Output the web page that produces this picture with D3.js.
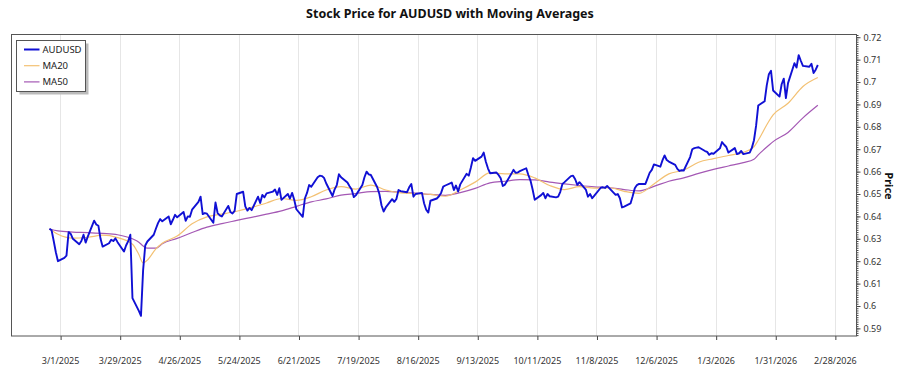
<!DOCTYPE html>
<html>
<head>
<meta charset="utf-8">
<script src="https://cdnjs.cloudflare.com/ajax/libs/d3/7.8.5/d3.min.js"></script>
<style>
  body { margin: 0; background: #fff; }
  text { font-family: "Segoe UI", "Noto Sans", sans-serif; }
</style>
</head>
<body>
<div id="chart"></div>
<script>
// ===== DATA =====
// first trading day, then one row per week (Mon..Fri closes)
var firstMonday = "2025-02-24";
var audusd = [
  [0.6345, 0.6338, 0.6290, 0.6240, 0.6200],
  [0.6215, 0.6225, 0.6330, 0.6322, 0.6300],
  [0.6276, 0.6290, 0.6318, 0.6283, 0.6310],
  [0.6381, 0.6364, 0.6358, 0.6300, 0.6265],
  [0.6280, 0.6296, 0.6290, 0.6302, 0.6285],
  [0.6243, 0.6270, 0.6290, 0.6318, 0.6035],
  [0.5978, 0.5956, 0.6160, 0.6270, 0.6288],
  [0.6318, 0.6345, 0.6370, 0.6388, 0.6378],
  [0.6400, 0.6365, 0.6385, 0.6407, 0.6396],
  [0.6420, 0.6380, 0.6400, 0.6398, 0.6430],
  [0.6465, 0.6488, 0.6410, 0.6415, 0.6412],
  [0.6372, 0.6462, 0.6415, 0.6405, 0.6400],
  [0.6447, 0.6420, 0.6413, 0.6425, 0.6500],
  [0.6510, 0.6445, 0.6426, 0.6438, 0.6428],
  [0.6488, 0.6460, 0.6496, 0.6485, 0.6503],
  [0.6511, 0.6520, 0.6496, 0.6526, 0.6474],
  [0.6500, 0.6480, 0.6505, 0.6474, 0.6432],
  [0.6398, 0.6480, 0.6505, 0.6540, 0.6532],
  [0.6575, 0.6582, 0.6580, 0.6572, 0.6548],
  [0.6491, 0.6521, 0.6540, 0.6588, 0.6575],
  [0.6551, 0.6535, 0.6520, 0.6486, 0.6495],
  [0.6540, 0.6575, 0.6600, 0.6588, 0.6585],
  [0.6530, 0.6500, 0.6450, 0.6422, 0.6440],
  [0.6477, 0.6465, 0.6478, 0.6518, 0.6513],
  [0.6508, 0.6530, 0.6545, 0.6488, 0.6500],
  [0.6505, 0.6459, 0.6430, 0.6417, 0.6470],
  [0.6480, 0.6490, 0.6505, 0.6533, 0.6538],
  [0.6551, 0.6518, 0.6538, 0.6511, 0.6543],
  [0.6590, 0.6582, 0.6618, 0.6660, 0.6648],
  [0.6667, 0.6685, 0.6645, 0.6615, 0.6593],
  [0.6596, 0.6585, 0.6570, 0.6536, 0.6542],
  [0.6590, 0.6608, 0.6595, 0.6596, 0.6602],
  [0.6615, 0.6585, 0.6560, 0.6520, 0.6474],
  [0.6495, 0.6505, 0.6481, 0.6500, 0.6490],
  [0.6485, 0.6488, 0.6510, 0.6545, 0.6553],
  [0.6580, 0.6582, 0.6566, 0.6541, 0.6553],
  [0.6520, 0.6488, 0.6500, 0.6481, 0.6493],
  [0.6528, 0.6530, 0.6527, 0.6536, 0.6526],
  [0.6496, 0.6500, 0.6481, 0.6440, 0.6444],
  [0.6458, 0.6490, 0.6526, 0.6540, 0.6545],
  [0.6545, 0.6570, 0.6595, 0.6608, 0.6632],
  [0.6622, 0.6650, 0.6672, 0.6652, 0.6645],
  [0.6630, 0.6612, 0.6603, 0.6606, 0.6605],
  [0.6665, 0.6700, 0.6705, 0.6707, 0.6709],
  [0.6692, 0.6688, 0.6675, 0.6682, 0.6680],
  [0.6704, 0.6732, 0.6720, 0.6710, 0.6685],
  [0.6705, 0.6678, 0.6682, 0.6692, 0.6678],
  [0.6685, 0.6706, 0.6740, 0.6805, 0.6895],
  [0.6914, 0.6985, 0.7035, 0.7050, 0.6962],
  [0.6935, 0.6990, 0.7015, 0.6928, 0.6995],
  [0.7084, 0.7065, 0.7120, 0.7095, 0.7072],
  [0.7068, 0.7082, 0.7040, 0.7055, 0.7076]
];

// moving averages
var maDates = ["2025-02-24","2025-02-28","2025-03-07","2025-03-14","2025-03-21","2025-03-28",
  "2025-04-04","2025-04-07","2025-04-09","2025-04-11","2025-04-15","2025-04-18","2025-04-25",
  "2025-05-02","2025-05-09","2025-05-16","2025-05-23","2025-05-30","2025-06-06","2025-06-13",
  "2025-06-20","2025-06-27","2025-07-04","2025-07-11","2025-07-18","2025-07-25","2025-08-01",
  "2025-08-08","2025-08-15","2025-08-22","2025-08-29","2025-09-05","2025-09-12","2025-09-19",
  "2025-09-26","2025-10-03","2025-10-10","2025-10-17","2025-10-24","2025-10-31","2025-11-07",
  "2025-11-14","2025-11-21","2025-11-28","2025-12-05","2025-12-12","2025-12-19","2025-12-26",
  "2026-01-02","2026-01-09","2026-01-16","2026-01-21","2026-01-23","2026-01-28","2026-01-30",
  "2026-02-06","2026-02-13","2026-02-20"];
var ma20 = [0.6344, 0.6320, 0.6303, 0.6307, 0.6316, 0.6305,
  0.6276, 0.6230, 0.6192, 0.6205, 0.6255, 0.6280, 0.6312,
  0.6367, 0.6398, 0.6410, 0.6423, 0.6440, 0.6460, 0.6480,
  0.6472, 0.6488, 0.6518, 0.6533, 0.6522, 0.6540, 0.6518,
  0.6505, 0.6502, 0.6498, 0.6490, 0.6518, 0.6553, 0.6594,
  0.6590, 0.6590, 0.6572, 0.6538, 0.6520, 0.6533, 0.6526,
  0.6528, 0.6512, 0.6503, 0.6545, 0.6590, 0.6607, 0.6642,
  0.6658, 0.6672, 0.6686, 0.6711, 0.6740, 0.6825, 0.6853,
  0.6905, 0.6980, 0.7020];
var ma50 = [0.6344, 0.6335, 0.6330, 0.6328, 0.6324, 0.6318,
  0.6300, 0.6285, 0.6268, 0.6258, 0.6258, 0.6278, 0.6302,
  0.6328, 0.6352, 0.6368, 0.6382, 0.6396, 0.6410, 0.6425,
  0.6445, 0.6465, 0.6478, 0.6495, 0.6502, 0.6511, 0.6512,
  0.6508, 0.6504, 0.6498, 0.6494, 0.6506, 0.6525, 0.6550,
  0.6557, 0.6564, 0.6563, 0.6553, 0.6545, 0.6538, 0.6532,
  0.6528, 0.6520, 0.6514, 0.6534, 0.6557, 0.6572, 0.6592,
  0.6610, 0.6625, 0.6640, 0.6655, 0.6675, 0.6718, 0.6734,
  0.6775, 0.6840, 0.6896];

var xTickLabels = ["3/1/2025","3/29/2025","4/26/2025","5/24/2025","6/21/2025","7/19/2025",
  "8/16/2025","9/13/2025","10/11/2025","11/8/2025","12/6/2025","1/3/2026","1/31/2026","2/28/2026"];
var yTicks = [0.59, 0.60, 0.61, 0.62, 0.63, 0.64, 0.65, 0.66, 0.67, 0.68, 0.69, 0.70, 0.71, 0.72];

var seriesNames = ["AUDUSD", "MA20", "MA50"];
var seriesColors = ["#1010d4", "#f3c173", "#a458b4"];


function draw()
{
  var w = 900;
  var h = 375;
  var left = 11.5, right = 856.5, top = 34.5, bottom = 336;

  var svg = d3.select("#chart")
              .append("svg")
              .attr("width", w)
              .attr("height", h);

  var parse = d3.utcParse("%Y-%m-%d");
  var parseTick = d3.utcParse("%-m/%-d/%Y");

  // trading days: weekdays from the first Monday
  var start = parse(firstMonday);
  var prices = [];
  audusd.forEach(function(week, wi) {
    week.forEach(function(v, di) {
      prices.push({date: d3.utcDay.offset(start, wi * 7 + di), value: v});
    });
  });
  var ma20Data = maDates.map(function(d, i) { return {date: parse(d), value: ma20[i]}; });
  var ma50Data = maDates.map(function(d, i) { return {date: parse(d), value: ma50[i]}; });

  var x = d3.scaleUtc()
            .domain([Date.UTC(2025, 1, 6, 4), Date.UTC(2026, 2, 10, 4)])
            .range([left, right]);

  var y = d3.scaleLinear()
            .domain([0.5866, 0.7210])
            .range([bottom, top + 0.5]);

  var tickDates = xTickLabels.map(function(s) { return parseTick(s); });

  // vertical grid
  svg.append("g")
     .selectAll("line")
     .data(tickDates)
     .enter()
     .append("line")
     .attr("x1", function(d) { return Math.round(x(d)) + 0.5; })
     .attr("x2", function(d) { return Math.round(x(d)) + 0.5; })
     .attr("y1", top)
     .attr("y2", bottom)
     .attr("stroke", "#e6e6e6");

  // x axis
  var xAxis = d3.axisBottom(x)
                .tickValues(tickDates)
                .tickFormat(function(d, i) { return xTickLabels[i]; })
                .tickSizeInner(4)
                .tickSizeOuter(0)
                .tickPadding(18);
  var gx = svg.append("g")
              .attr("transform", "translate(0," + bottom + ")")
              .call(xAxis);
  gx.select(".domain").remove();
  gx.selectAll(".tick line").attr("stroke", "#444")
    .attr("transform", "translate(0.5,0)");
  gx.selectAll("text").attr("fill", "#333").attr("font-size", "9px")
    .attr("font-family", "'Segoe UI', 'Noto Sans', sans-serif");

  // y axis on the right, with minor ticks
  var minor = d3.range(5870, 7211).map(function(v) { return v / 10000; })
                .filter(function(v) { return Math.round(v * 10000) % 10 === 0; });
  var gyMinor = svg.append("g")
                   .attr("transform", "translate(" + right + ",0)")
                   .call(d3.axisRight(y).tickValues(minor).tickSize(2).tickFormat(""));
  gyMinor.select(".domain").remove();
  gyMinor.selectAll(".tick line").attr("stroke", "#444");

  var gy = svg.append("g")
              .attr("transform", "translate(" + right + ",0)")
              .call(d3.axisRight(y)
                      .tickValues(yTicks)
                      .tickSize(4)
                      .tickPadding(3)
                      .tickFormat(function(d) { return String(+d.toFixed(2)); }));
  gy.select(".domain").remove();
  gy.selectAll(".tick line").attr("stroke", "#444");
  gy.selectAll("text").attr("fill", "#333").attr("font-size", "9px")
    .attr("font-family", "'Segoe UI', 'Noto Sans', sans-serif");

  // plot frame
  svg.append("rect")
     .attr("x", left)
     .attr("y", top)
     .attr("width", right - left)
     .attr("height", bottom - top)
     .attr("fill", "none")
     .attr("stroke", "#555");

  // lines
  var line = d3.line()
               .x(function(d) { return x(d.date); })
               .y(function(d) { return y(d.value); });
  var smooth = d3.line()
                 .curve(d3.curveMonotoneX)
                 .x(function(d) { return x(d.date); })
                 .y(function(d) { return y(d.value); });

  svg.append("path")
     .datum(ma50Data)
     .attr("d", smooth)
     .attr("fill", "none")
     .attr("stroke", seriesColors[2])
     .attr("stroke-width", 1.2);

  svg.append("path")
     .datum(ma20Data)
     .attr("d", smooth)
     .attr("fill", "none")
     .attr("stroke", seriesColors[1])
     .attr("stroke-width", 1.2);

  svg.append("path")
     .datum(prices)
     .attr("d", line)
     .attr("fill", "none")
     .attr("stroke", seriesColors[0])
     .attr("stroke-width", 1.9)
     .attr("stroke-linejoin", "round");

  // title
  svg.append("text")
     .attr("x", 450)
     .attr("y", 18)
     .attr("text-anchor", "middle")
     .attr("font-size", "12.5px")
     .attr("font-weight", "bold")
     .attr("fill", "#111")
     .text("Stock Price for AUDUSD with Moving Averages");

  // y label
  svg.append("text")
     .attr("transform", "translate(885,186) rotate(90)")
     .attr("text-anchor", "middle")
     .attr("font-size", "11px")
     .attr("font-weight", "bold")
     .attr("fill", "#111")
     .text("Price");

  // legend
  var legend = svg.append("g")
                  .attr("transform", "translate(16.5,40.5)");
  legend.append("rect")
        .attr("x", 3)
        .attr("y", 3)
        .attr("width", 69)
        .attr("height", 51)
        .attr("fill", "#bbb");
  legend.append("rect")
        .attr("width", 69)
        .attr("height", 51)
        .attr("fill", "#fff")
        .attr("stroke", "#555");

  var rows = legend.selectAll("g.row")
                   .data(seriesNames)
                   .enter()
                   .append("g")
                   .attr("class", "row")
                   .attr("transform", function(d, i) { return "translate(0," + (9 + i * 16.2) + ")"; });
  rows.append("line")
      .attr("x1", 7.5)
      .attr("x2", 23)
      .attr("stroke", function(d, i) { return seriesColors[i]; })
      .attr("stroke-width", function(d, i) { return i === 0 ? 2 : 1.2; });
  rows.append("text")
      .attr("x", 26)
      .attr("dy", "0.35em")
      .attr("font-size", "9.5px")
      .attr("fill", "#222")
      .text(function(d) { return d; });
}

window.onload = draw;
</script>
</body>
</html>
